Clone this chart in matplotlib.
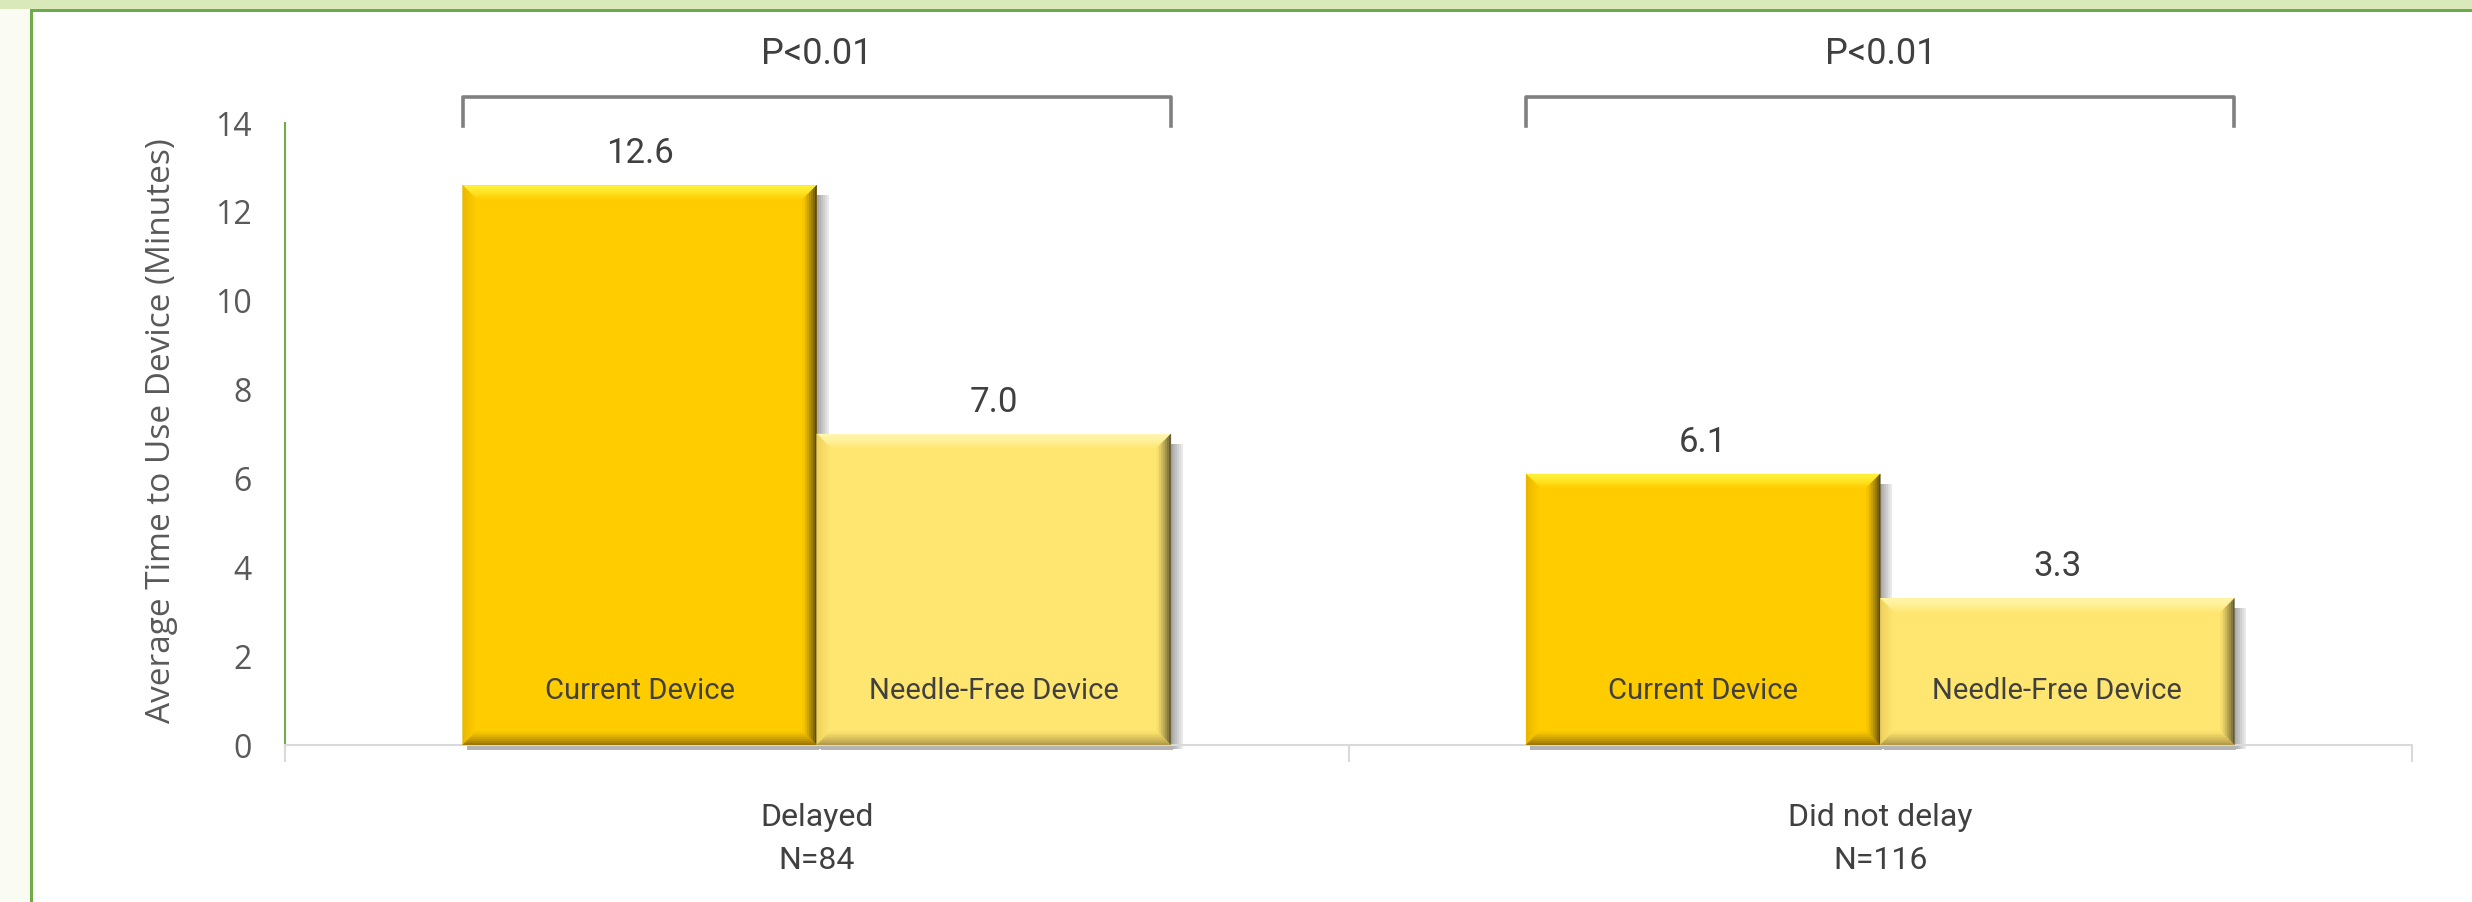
import numpy as np
import matplotlib
matplotlib.use("Agg")
import matplotlib.pyplot as plt
from matplotlib.patches import Rectangle, Polygon
from matplotlib.colors import to_rgb

# data
groups = ["Delayed\nN=84", "Did not delay\nN=116"]
series = ["Current Device", "Needle-Free Device"]
current = [12.6, 6.1]
needle_free = [7.0, 3.3]
p_labels = ["P<0.01", "P<0.01"]
yticks = [0, 2, 4, 6, 8, 10, 12, 14]

# styles
base_cols = ["#FFCC00", "#FFE670"]
bevel_cols = [
    # top, left, right, bottom
    ("#FFF23A", "#E2B000", "#3C3220", "#8E6C00"),
    ("#FFF6B0", "#E6CA55", "#44402C", "#A89045"),
]
narrow = ["Liberation Sans Narrow", "Roboto", "DejaVu Sans"]
wide = ["Open Sans", "DejaVu Sans"]
txt_col = "#404040"

W, H, DPI = 24.72, 9.02, 100
fig = plt.figure(figsize=(W, H), dpi=DPI)
fig.patch.set_facecolor("white")

# frame decorations (slide border)
fig.patches.append(Rectangle((0, 0), 30 / 2472, 1, transform=fig.transFigure,
                             facecolor="#FAFBF3", edgecolor="none", zorder=0))
fig.patches.append(Rectangle((30 / 2472, 0), 3 / 2472, 1, transform=fig.transFigure,
                             facecolor="#70AD47", edgecolor="none", zorder=1))
fig.patches.append(Rectangle((0, 1 - 9 / 902), 1, 9 / 902, transform=fig.transFigure,
                             facecolor="#D9E9BA", edgecolor="none", zorder=1))
fig.patches.append(Rectangle((30 / 2472, 1 - 12 / 902), 1, 3 / 902, transform=fig.transFigure,
                             facecolor="#6AAB4A", edgecolor="none", zorder=1))

ax = fig.add_axes([285 / 2472, 157 / 902, (2412 - 285) / 2472, (745 - 123) / 902])
ax.set_facecolor("none")
x = np.arange(len(groups))
bw = 0.333
bars1 = ax.bar(x - bw / 2, current, bw, color=base_cols[0], zorder=3)
bars2 = ax.bar(x + bw / 2, needle_free, bw, color=base_cols[1], zorder=3)

ax.set_xlim(-0.5, 1.5)
ax.set_ylim(0, 14)
ax.set_yticks(yticks)
ax.set_yticklabels([str(v) for v in yticks], family=wide, fontsize=23, color="#595959")
ax.tick_params(axis="y", length=0, pad=24)
ax.set_xticks(x)
ax.set_xticklabels(groups, family=narrow, fontsize=23, color=txt_col, linespacing=1.6)
ax.set_xticks([-0.5, 0.5, 1.5], minor=True)
ax.tick_params(axis="x", which="major", length=0, pad=42)
ax.tick_params(axis="x", which="minor", length=12, width=1.5, color="#D9D9D9")
for s in ["top", "right"]:
    ax.spines[s].set_visible(False)
ax.spines["left"].set_color("#70AD47")
ax.spines["left"].set_linewidth(1.5)
ax.spines["bottom"].set_color("#D9D9D9")
ax.spines["bottom"].set_linewidth(1.5)
ax.set_ylabel("Average Time to Use Device (Minutes)", family=wide, fontsize=24, color="#595959")
ax.yaxis.set_label_coords(-0.0505, 0.505)

fig.canvas.draw()
inv = ax.transData.inverted()


def pix(px, py):
    return inv.transform((px, py))


def mix(c1, c2, t):
    a, b = np.array(to_rgb(c1)), np.array(to_rgb(c2))
    return tuple(a + (b - a) * t)


def bevel(bar, base, cols, w=14, n=7):
    (x0, y0), (x1, y1) = ax.transData.transform([(bar.get_x(), 0), (bar.get_x() + bar.get_width(), bar.get_height())])
    # shadow
    for i in range(6):
        t = i / 6
        sx = x1 + i * 2
        ax.add_patch(Polygon([pix(sx, y0 - 4), pix(sx + 2, y0 - 4), pix(sx + 2, y1 - 10), pix(sx, y1 - 10)],
                             closed=True, facecolor=mix("#A8A8A8", "#F6F6F6", t), edgecolor="none",
                             zorder=2, clip_on=False))
    ax.add_patch(Polygon([pix(x0 + 4, y0 - 5), pix(x1 + 2, y0 - 5), pix(x1 + 2, y0), pix(x0 + 4, y0)],
                         closed=True, facecolor="#B4B4B4", edgecolor="none", zorder=2, clip_on=False))
    ctop, cleft, cright, cbot = cols
    for i in range(n):
        d0, d1 = w * i / n, w * (i + 1) / n
        t = (i + 0.5) / n
        ox0, ox1, oy0, oy1 = x0 + d0, x1 - d0, y0 + d0, y1 - d0
        ix0, ix1, iy0, iy1 = x0 + d1, x1 - d1, y0 + d1, y1 - d1
        faces = [
            ([(ox0, oy1), (ox1, oy1), (ix1, iy1), (ix0, iy1)], mix(ctop, base, t ** 1.5)),
            ([(ox0, oy0), (ox0, oy1), (ix0, iy1), (ix0, iy0)], mix(cleft, base, t ** 0.6)),
            ([(ox1, oy0), (ox1, oy1), (ix1, iy1), (ix1, iy0)], mix(cright, base, t ** 0.7)),
            ([(ox0, oy0), (ox1, oy0), (ix1, iy0), (ix0, iy0)], mix(cbot, base, t ** 0.8)),
        ]
        for pts, c in faces:
            ax.add_patch(Polygon([pix(*p) for p in pts], closed=True, facecolor=c,
                                 edgecolor=c, linewidth=0.3, zorder=4))


for bars, base, cols, name in [(bars1, base_cols[0], bevel_cols[0], series[0]),
                               (bars2, base_cols[1], bevel_cols[1], series[1])]:
    for b in bars:
        bevel(b, base, cols)
        cx = b.get_x() + b.get_width() / 2
        ax.annotate(f"{b.get_height():.1f}", (cx, b.get_height()), xytext=(0, 11),
                    textcoords="offset points", ha="center", va="bottom",
                    family=narrow, fontsize=25, color=txt_col, zorder=6)
        ax.text(cx, 1.22, name, ha="center", va="center", family=narrow,
                fontsize=21, color=txt_col, zorder=6)

# significance brackets
for i, p in enumerate(p_labels):
    xl, xr = x[i] - bw, x[i] + bw
    ax.plot([xl, xl, xr, xr], [13.93, 14.58, 14.58, 13.93], color="#808080", lw=2.6,
            solid_joinstyle="round", clip_on=False, zorder=5)
    ax.text(x[i], 15.55, p, ha="center", va="center", family=narrow, fontsize=26,
            color=txt_col, clip_on=False)

fig.savefig("out.png", dpi=DPI)
